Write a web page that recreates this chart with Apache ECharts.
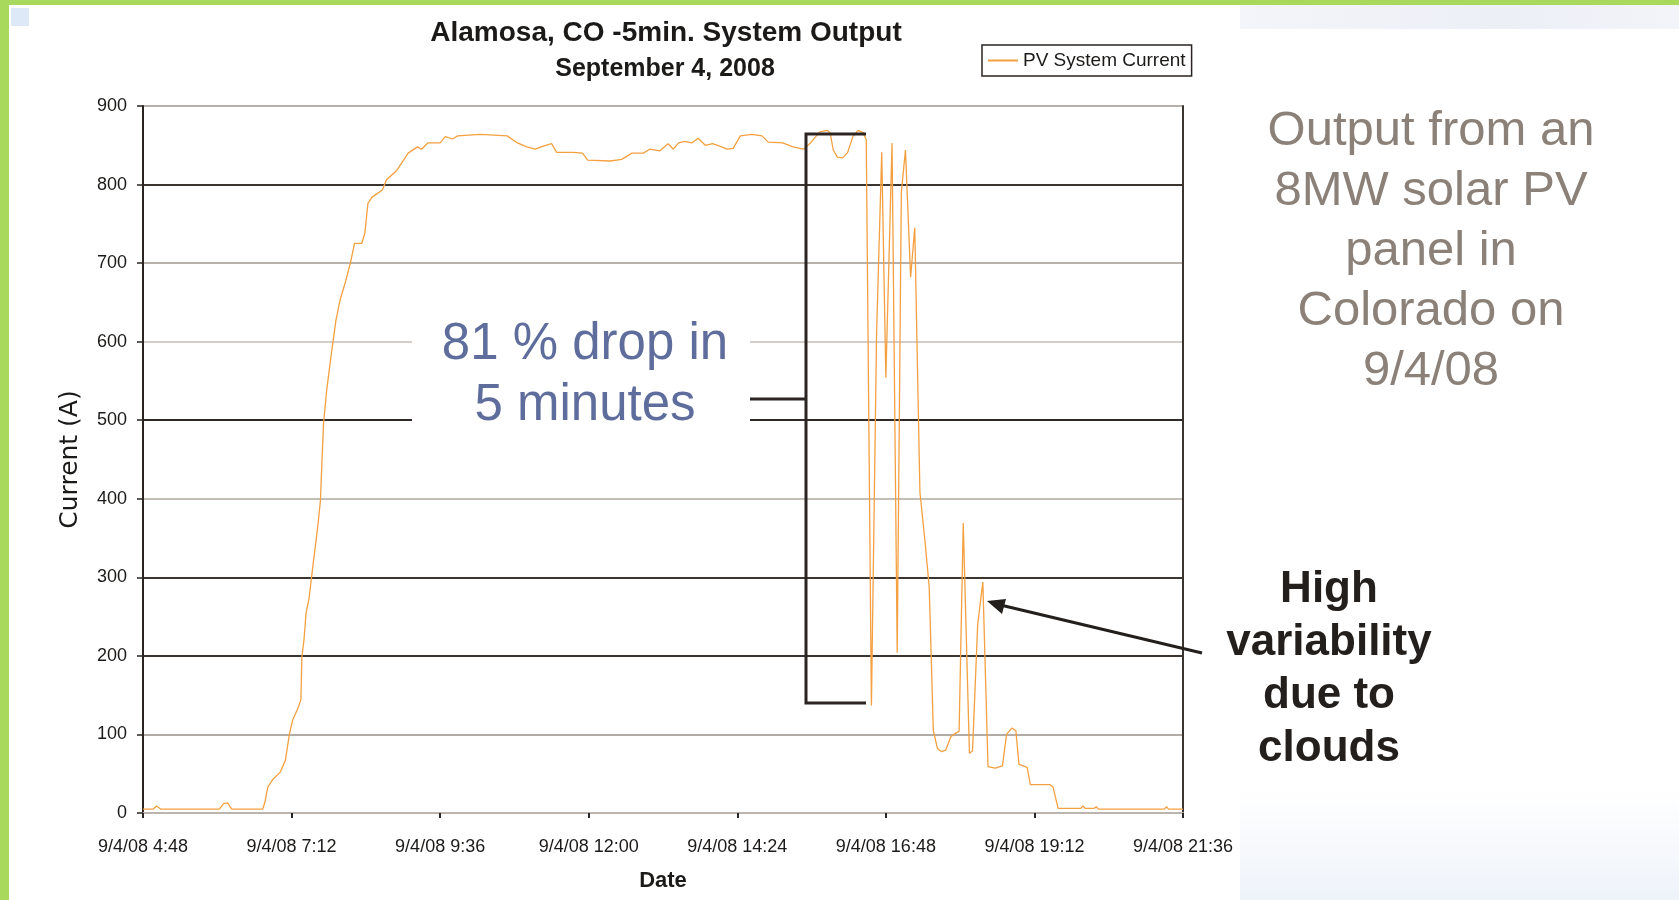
<!DOCTYPE html>
<html>
<head>
<meta charset="utf-8">
<script src="https://cdn.jsdelivr.net/npm/echarts@6/dist/echarts.min.js"></script>
<style>
  html, body { margin: 0; padding: 0; }
  body { width: 1679px; height: 900px; overflow: hidden; background: #ffffff; position: relative; }
  #bgTopRight { position: absolute; left: 1240px; top: 5px; width: 439px; height: 24px; background: linear-gradient(90deg, #f4f5fa, #eceff6 60%, #f2f4f9); }
  #bgBottomRight { position: absolute; left: 1240px; top: 790px; width: 439px; height: 110px; background: linear-gradient(180deg, #ffffff, #eef3fa); }
  #greenLeft { position: absolute; left: 0; top: 0; width: 9px; height: 900px; background: #a8d95c; }
  #greenTop { position: absolute; left: 0; top: 0; width: 1679px; height: 5px; background: #a8d95c; }
  #blueSq { position: absolute; left: 11px; top: 8px; width: 18px; height: 18px; background: #dde9f6; }
  #chart { position: absolute; left: 0; top: 0; width: 1679px; height: 900px; }
</style>
</head>
<body>
<div id="bgTopRight"></div>
<div id="bgBottomRight"></div>
<div id="greenLeft"></div>
<div id="greenTop"></div>
<div id="blueSq"></div>
<div id="chart"></div>
<script>
// ---- data (time of day, PV system current in A) ----
const times = [
  "4:48","4:58","5:01","5:05","6:02","6:06","6:10","6:14","6:44","6:46",
  "6:49","6:54","7:01","7:06","7:10","7:13","7:18","7:21","7:22","7:24",
  "7:26","7:29","7:33","7:37","7:40","7:41","7:43","7:46","7:51","7:55",
  "7:59","8:04","8:09","8:13","8:20","8:23","8:26","8:30","8:40","8:44",
  "8:54","9:05","9:14","9:18","9:24","9:36","9:41","9:48","9:53","10:15",
  "10:41","10:51","11:00","11:08","11:16","11:24","11:29","11:45","11:54","11:59",
  "12:21","12:32","12:42","12:53","12:59","13:09","13:17","13:22","13:27","13:33",
  "13:40","13:46","13:53","14:00","14:07","14:14","14:20","14:27","14:38","14:48",
  "14:54","15:08","15:18","15:28","15:35","15:44","15:51","15:54","15:57","16:01",
  "16:06","16:11","16:16","16:21","16:26","16:29","16:34","16:39","16:44","16:48",
  "16:54","16:59","17:03","17:07","17:12","17:16","17:21","17:26","17:30","17:34",
  "17:38","17:42","17:46","17:51","17:56","17:59","18:03","18:09","18:12","18:17",
  "18:22","18:27","18:34","18:41","18:45","18:50","18:54","18:57","19:01","19:05",
  "19:08","19:27","19:30","19:35","19:57","19:59","20:01","20:10","20:12","20:14",
  "21:18","21:20","21:22","21:36"
];
const current = [
  5,5,9,5,5,12,13,5,5,13,
  33,43,52,67,101,118,133,144,199,220,
  254,274,318,360,398,433,496,538,589,627,
  653,675,700,725,725,738,776,784,793,806,
  818,840,848,845,853,853,861,858,862,864,
  862,853,848,845,849,852,841,841,840,831,
  830,832,840,840,845,843,852,845,853,855,
  853,859,850,852,849,845,846,862,864,862,
  854,853,848,845,853,867,869,866,844,835,
  834,841,861,869,866,857,137,610,841,554,
  853,204,790,844,682,745,409,345,288,105,
  82,78,80,97,102,104,369,76,79,240,
  294,59,57,60,100,108,105,62,60,58,
  36,36,33,6,6,9,6,6,8,5,
  5,8,5,5
];
const xTickStart = "4:48";
const xTickEnd = "21:36";
const xTickStep = 144;           // minutes (2 h 24 min)
const yTicks = [0,100,200,300,400,500,600,700,800,900];
const chartTitle = "Alamosa, CO -5min. System Output";
const chartSubtitle = "September 4, 2008";
const seriesName = "PV System Current";
const yAxisName = "Current (A)";
const xAxisName = "Date";
const datePrefix = "9/4/08";

function toMin(s) { const p = s.split(":"); return (+p[0]) * 60 + (+p[1]); }
function fmtMin(v) { const h = Math.floor(v / 60), m = Math.round(v % 60); return datePrefix + " " + h + ":" + (m < 10 ? "0" + m : m); }

const seriesData = times.map((t, i) => [toMin(t), current[i]]);

const narrow = "'Liberation Sans Narrow','Arial Narrow','Liberation Sans',Arial,sans-serif";
const sans = "'Liberation Sans',Arial,sans-serif";

// gridline colours, from 0 upward (the scan shows alternating weights)
const gridColors = ['#bcb5af','#b3aca6','#3b3531','#3b3531','#c4beb8','#2f2a27','#d3cec9','#b8b1ab','#3b3531','#b8b1ab'];

const chart = echarts.init(document.getElementById('chart'), null, { renderer: 'canvas' });
chart.setOption({
  animation: false,
  backgroundColor: 'transparent',
  title: [
    { text: chartTitle, left: 661, top: 14, textAlign: 'center',
      textStyle: { fontFamily: sans, fontSize: 28, fontWeight: 'bold', color: '#1c1a18' } },
    { text: chartSubtitle, left: 660, top: 52, textAlign: 'center',
      textStyle: { fontFamily: sans, fontSize: 25, fontWeight: 'bold', color: '#1c1a18' } }
  ],
  legend: {
    left: 982, top: 45,
    orient: 'horizontal',
    data: [{ name: seriesName, icon: 'rect' }],
    itemWidth: 30, itemHeight: 2, itemGap: 4,
    padding: [6, 6, 6, 6],
    borderColor: '#2a2522', borderWidth: 1.5,
    backgroundColor: '#ffffff',
    textStyle: { fontFamily: sans, fontSize: 19, color: '#1c1a18' }
  },
  grid: { left: 143, right: 496, top: 106, bottom: 87, containLabel: false, outerBoundsMode: 'none' },
  xAxis: {
    type: 'value',
    min: toMin(xTickStart), max: toMin(xTickEnd), interval: xTickStep,
    name: xAxisName, nameLocation: 'middle', nameGap: 57,
    nameTextStyle: { fontFamily: sans, fontSize: 22, fontWeight: 'bold', color: '#1c1a18' },
    axisLine: { show: true, lineStyle: { color: '#bcb5af', width: 2 } },
    axisTick: { show: true, length: 5, inside: false, lineStyle: { color: '#2a2522', width: 2 } },
    axisLabel: { formatter: fmtMin, margin: 25, fontFamily: sans, fontSize: 18, color: '#1c1a18' },
    splitLine: { show: false }
  },
  yAxis: [
    {
      type: 'value', min: yTicks[0], max: yTicks[yTicks.length - 1], interval: yTicks[1] - yTicks[0],
      name: yAxisName, nameLocation: 'middle', nameGap: 60, nameRotate: 90,
      nameTextStyle: { fontFamily: "'DejaVu Sans',sans-serif", fontSize: 25, color: '#1c1a18' },
      axisLine: { show: true, lineStyle: { color: '#2a2522', width: 2 } },
      axisTick: { show: true, length: 6, lineStyle: { color: '#2a2522', width: 1.5 } },
      axisLabel: { margin: 16, fontFamily: narrow, fontSize: 18, color: '#1c1a18' },
      splitLine: { show: true, lineStyle: { color: gridColors, width: 2 } }
    },
    {
      type: 'value', min: yTicks[0], max: yTicks[yTicks.length - 1], position: 'right',
      axisLine: { show: true, lineStyle: { color: '#3b3531', width: 2 } },
      axisTick: { show: false }, axisLabel: { show: false }, splitLine: { show: false }
    }
  ],
  series: [{
    name: seriesName,
    type: 'line',
    yAxisIndex: 0,
    data: seriesData,
    symbol: 'none',
    smooth: false,
    lineStyle: { color: '#f4a040', width: 1.3 },
    itemStyle: { color: '#f4a040' },
    z: 3
  }],
  graphic: [
    // white box behind the annotation text (interrupts gridlines)
    { type: 'rect', shape: { x: 412, y: 305, width: 338, height: 130 }, style: { fill: '#ffffff' }, z: 5 },
    { type: 'text', x: 585, y: 314, z: 6,
      style: { text: '81 % drop in\n5 minutes', fill: '#5e6d9c', font: "51px 'Liberation Sans', Arial, sans-serif",
               textAlign: 'center', textVerticalAlign: 'top', lineHeight: 61 } },
    // bracket
    { type: 'polyline', z: 6, shape: { points: [[866, 134], [806, 134], [806, 703], [866, 703]] },
      style: { stroke: '#2a2522', lineWidth: 3, fill: null } },
    { type: 'line', z: 6, shape: { x1: 750, y1: 399, x2: 806, y2: 399 }, style: { stroke: '#2a2522', lineWidth: 3 } },
    // arrow
    { type: 'line', z: 6, shape: { x1: 1202, y1: 653, x2: 992, y2: 603 }, style: { stroke: '#231f1c', lineWidth: 3 } },
    { type: 'polygon', z: 6, shape: { points: [[987, 601], [1006, 599], [1002, 614]] }, style: { fill: '#231f1c' } },
    // right-hand texts
    { type: 'text', x: 1431, y: 101, z: 6,
      style: { text: 'Output from an\n8MW solar PV\npanel in\nColorado on\n9/4/08', fill: '#8b8178',
               font: "49px 'Liberation Sans', Arial, sans-serif", textAlign: 'center', textVerticalAlign: 'top', lineHeight: 60 } },
    { type: 'text', x: 1329, y: 563, z: 6,
      style: { text: 'High\nvariability\ndue to\nclouds', fill: '#231f1c',
               font: "bold 44px 'Liberation Sans', Arial, sans-serif", textAlign: 'center', textVerticalAlign: 'top', lineHeight: 53 } }
  ]
});
</script>
</body>
</html>
